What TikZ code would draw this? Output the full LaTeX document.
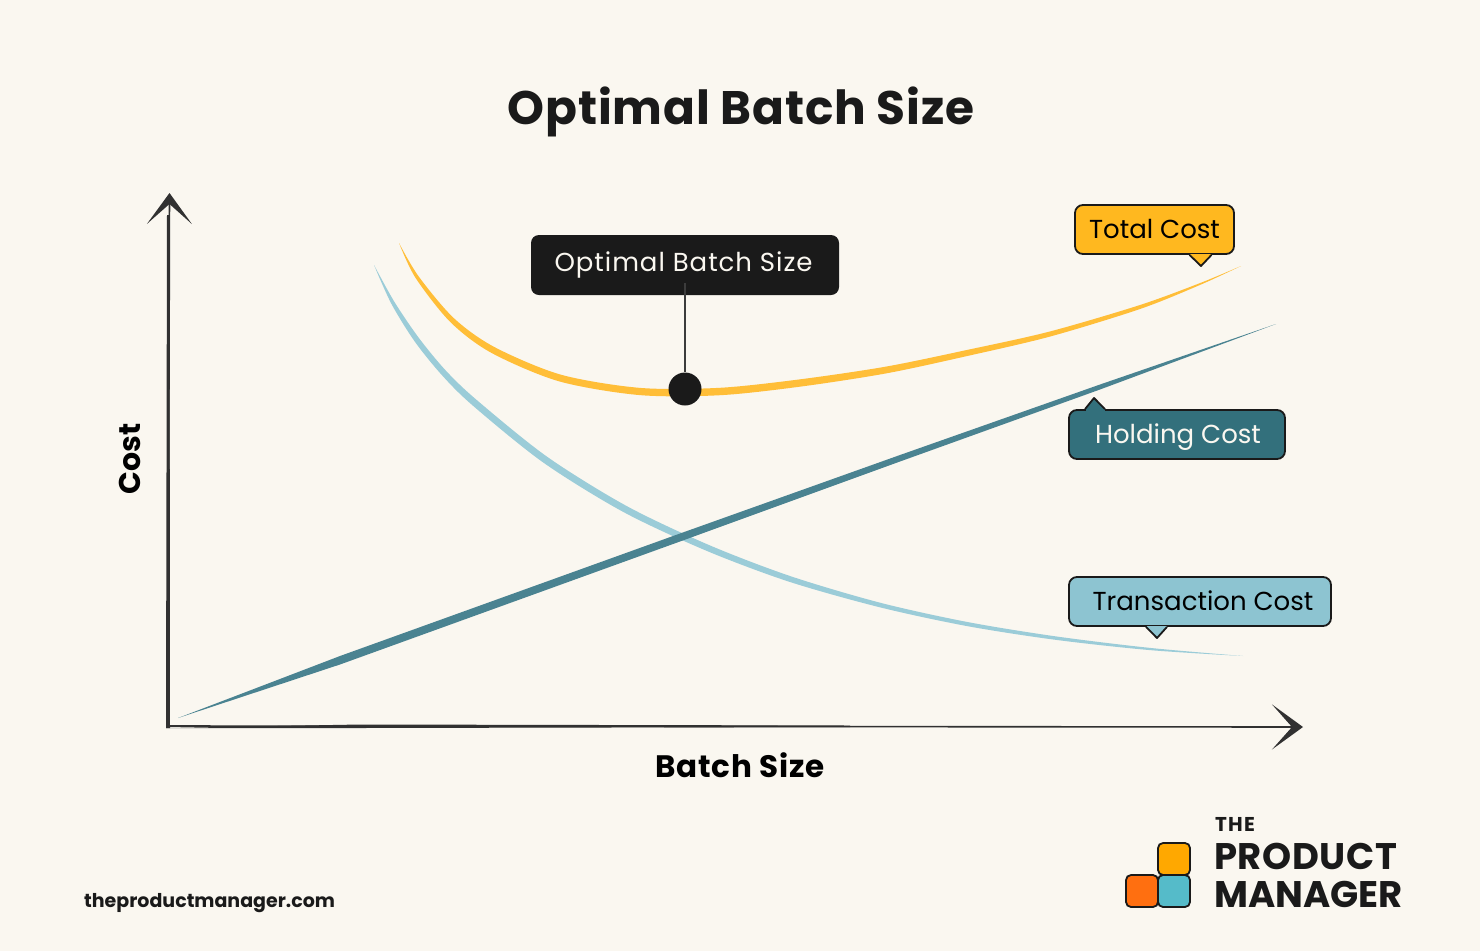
\documentclass[tikz,border=0pt]{standalone}
\usepackage{fontspec}
\setmainfont{Poppins}
\usetikzlibrary{positioning,arrows.meta,calc}

\definecolor{paper}{HTML}{FAF7F0}
\definecolor{ink}{HTML}{1A1A1A}
\definecolor{totalbox}{HTML}{FFB81F}
\definecolor{totalline}{HTML}{FFBE38}
\definecolor{holdbox}{HTML}{33707C}
\definecolor{holdline}{HTML}{4A8391}
\definecolor{transbox}{HTML}{8DC4D1}
\definecolor{transline}{HTML}{9BCCD8}
\definecolor{logoamber}{HTML}{FFA800}
\definecolor{logoorange}{HTML}{FF6F10}
\definecolor{logoteal}{HTML}{55BBC9}

% pointer of a label: node, colour, base offset left and right, tip
\newcommand{\calltip}[5]{
	\fill[#2] ($(#1)+(#3,0)$) -- ($(#1)+(#4,0)$) -- (#5) -- cycle;
	\fill[#2] ($(#1)+(#3+0.5,-1.4)$) rectangle ($(#1)+(#4-0.5,1.4)$);
	\draw[ink,line width=1.8pt,line join=round] ($(#1)+(#3,0)$) -- (#5) -- ($(#1)+(#4,0)$);
}

\begin{document}
\begin{tikzpicture}[
		  x=1pt,y=-1pt,
		  node distance=0pt and 0pt,
		  axisline/.style={ink!90,line width=1.6pt},
		  callbox/.style={draw=ink,line width=1.8pt,rounded corners=8pt,minimum height=49pt,inner sep=0pt,text height=17.6pt,text depth=0pt,font=\fontsize{26}{30}\selectfont},
		  logobox/.style={draw=ink,line width=1.8pt,rounded corners=5pt,minimum size=32pt,inner sep=0pt},
		  axistitle/.style={font=\fontsize{31}{36}\selectfont\bfseries,text=black},
		  logotext/.style={text=ink,anchor=west,inner sep=0pt}
		]
		\fill[paper] (0,0) rectangle (1480,951);
		\useasboundingbox (0,0) rectangle (1480,951);

		\node[font=\fontsize{47}{54}\selectfont\bfseries\addfontfeature{LetterSpace=1.7},text=ink] (title) at (741,112) {Optimal Batch Size};

		% axes
		\coordinate (origin) at (168,726);
		\coordinate (ytip) at (169.5,193);
		\coordinate (xtip) at (1303,727);
		\fill[ink!90] (166,728) -- (167,215) -- (169.5,215) -- (170,728) -- cycle;
		\fill[ink!90] (166,728) -- (360,724.5) -- (850,725.5) -- (850,727) -- (360,728) -- cycle;
		\draw[axisline,-{Stealth[length=31pt,width=45pt,inset=20pt]}] (origin) -- (ytip);
		\draw[axisline,-{Stealth[length=31pt,width=45pt,inset=20pt]}] (origin) -- (xtip);
		\node[axistitle,font=\fontsize{30}{36}\selectfont\bfseries,rotate=90] (costlabel) at (130,459) {Cost};
		\node[axistitle,font=\fontsize{31}{36}\selectfont\bfseries\addfontfeature{LetterSpace=2.2}] (batchlabel) at (740,765) {Batch Size};

		% curves
		\coordinate (totalstart) at (399,243);
		\coordinate (totalend) at (1241,266);
		\coordinate (transstart) at (374,265);
		\coordinate (transend) at (1243,656);
		\coordinate (holdstart) at (178,718);
		\coordinate (holdend) at (1276,324);
		\fill[totalline] plot[smooth] coordinates {(totalstart) (418.5,276.2) (453.8,318.1) (494.7,347.2) (561,374.7) (640.2,387.9) (719.8,387.8) (799.5,379.4) (885.4,366.7) (966.3,350.1) (1049.4,331.6) (1139.4,305.2) (1199.7,283.2) (totalend)}
			-- plot[smooth] coordinates {(totalend) (1200.3,284.8) (1140.6,308.8) (1050.6,336.4) (967.7,355.9) (886.6,373.3) (800.5,386.6) (720.2,395.2) (639.8,395.1) (559,381.3) (491.3,352.8) (450.2,321.9) (415.5,277.8) (totalstart)} -- cycle;
		\fill[transline] plot[smooth] coordinates {(transstart) (394.6,302.2) (419.2,338.4) (446.2,371) (477.3,400.5) (546.9,456.6) (626.6,506) (709.2,545.1) (790.9,576.3) (880.5,602.8) (967.4,622) (1055.3,636.3) (1150.1,647.9) (transend)}
			-- plot[smooth] coordinates {(transend) (1149.9,650.1) (1054.7,639.7) (966.6,626) (879.5,607.2) (789.1,581.7) (706.8,550.9) (623.4,512) (543.1,462.4) (472.7,405.5) (441.8,375) (414.8,341.6) (391.4,303.8) (transstart)} -- cycle;
		\fill[holdline] (holdstart) -- (340,656) -- (680,533.5) -- (900,455) -- (1100,384.5) -- (holdend) -- (1100,389.5) -- (900,461.5) -- (680,541.5) -- (340,664.5) -- cycle;

		% optimal point
		\node[fill=ink,circle,minimum size=33pt,inner sep=0pt] (optdot) at (685,389) {};
		\node[fill=ink,rounded corners=8pt,minimum width=308pt,minimum height=60pt,inner sep=0pt,text=paper,text height=12.8pt,text depth=0pt,font=\fontsize{26}{30}\selectfont\addfontfeature{LetterSpace=3.7}] (optlabel) at (685,265) {Optimal Batch Size\hspace*{3pt}};
		\draw[ink!85,line width=2.2pt] ($(optlabel.south)+(0,-12)$) -- (optdot);

		% labels
		\node[callbox,fill=totalbox,text=black,minimum width=159pt] (totallabel) at (1154.5,229.5) {Total Cost};
		\node[callbox,fill=holdbox,text=paper,minimum width=216pt] (holdlabel) at (1177,434.5) {\hspace*{2pt}Holding Cost};
		\node[callbox,fill=transbox,text=black,minimum width=262pt] (translabel) at (1200,601.5) {\hspace*{6pt}Transaction Cost};
		\calltip{totallabel.south}{totalbox}{35}{57}{1201,266}
		\calltip{holdlabel.north}{holdbox}{-92}{-72}{1094,398}
		\calltip{translabel.south}{transbox}{-54}{-33}{1157,638}

		% logo
		\node[logobox,fill=logoteal] (tealbox) at (1174,891) {};
		\node[logobox,fill=logoorange,left=-1.8pt of tealbox] (orangebox) {};
		\node[logobox,fill=logoamber,above=-1.8pt of tealbox] (amberbox) {};
		\node[logotext,font=\fontsize{20}{24}\selectfont\bfseries\addfontfeature{LetterSpace=6}] (logothe) at (1215,824) {THE};
		\node[logotext,font=\fontsize{37}{42}\selectfont\bfseries\addfontfeature{LetterSpace=1.5}] (logoproduct) at (1214,856) {PRODUCT};
		\node[logotext,font=\fontsize{37}{42}\selectfont\bfseries] (logomanager) at (1214,894) {MANAGER};

		\node[anchor=west,inner sep=0pt,text=ink,font=\fontsize{19}{24}\selectfont\bfseries] (website) at (84,903) {theproductmanager.com};
		\end{tikzpicture}
\end{document}
